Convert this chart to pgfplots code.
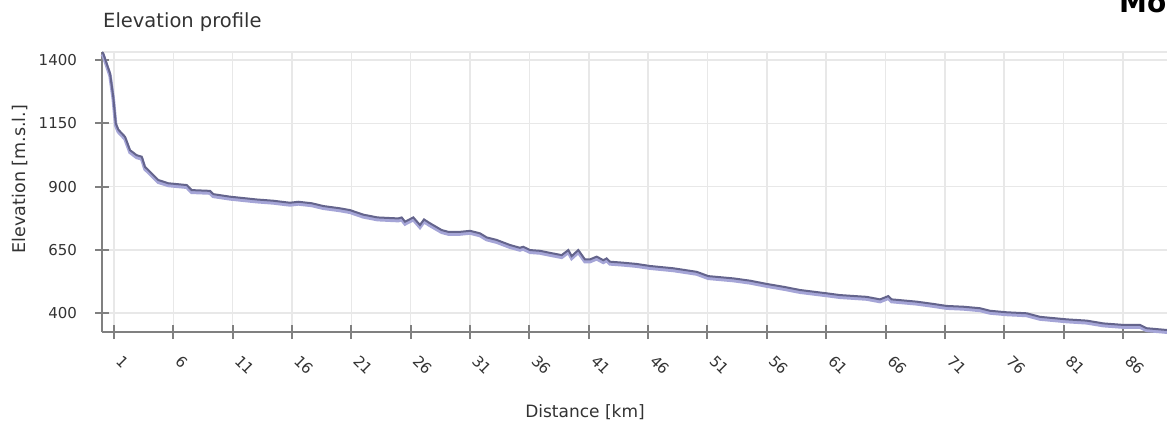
\documentclass[border=0pt]{standalone}
\usepackage{pgfplots}
\pgfplotsset{compat=1.18}
\usepackage{fontspec}
\setmainfont{DejaVu Sans}
\definecolor{gridc}{RGB}{232,232,232}
\definecolor{axc}{RGB}{128,128,128}
\definecolor{darkl}{RGB}{100,100,140}
\definecolor{lightl}{RGB}{165,165,215}
\pgfplotstableread{
km elev
0 1432
0.1 1426
0.67 1347
0.94 1255
1.15 1150
1.37 1125
1.93 1097
2.35 1044
2.91 1024
3.34 1018
3.61 978
4.18 952
4.73 926
5.58 913
7.13 906
7.55 886
9.09 883
9.37 870
10.78 860
13.02 849
14.42 844
15.83 836
16.53 840
17.66 834
18.64 823
20.04 814
20.88 807
22.0 789
23.2 778
24.95 774
25.24 778
25.52 761
26.22 778
26.78 748
27.12 770
27.62 755
28.61 728
29.17 721
30.15 721
31.0 725
31.84 715
32.4 699
33.24 689
34.36 669
35.2 658
35.48 662
36.05 649
36.89 646
37.73 638
38.72 629
39.28 649
39.56 625
40.12 649
40.68 612
41.1 612
41.67 623
42.22 609
42.51 616
42.79 603
43.91 599
45.04 594
46.16 586
48.12 577
50.09 563
51.07 546
53.18 537
54.58 528
56.0 515
57.5 503
58.8 491
61.04 478
62.16 471
64.41 464
65.54 454
66.23 467
66.52 454
68.63 445
70.03 436
71.15 428
72.55 425
73.96 419
74.8 409
76.21 403
77.89 399
79.01 385
81.26 375
82.95 370
84.35 359
86.03 353
87.44 353
88.0 340
89.69 333
91 328
}\profile
\begin{document}
\begin{tikzpicture}[x=1bp,y=1bp]
\clip (0,0) rectangle (1167,429);
\fill[white] (0,0) rectangle (1167,429);
\begin{axis}[
  at={(102.1bp,97bp)}, anchor=south west,
  scale only axis, width=1092bp, height=280bp,
  xmin=0, xmax=92, ymin=325, ymax=1432,
  axis lines=left, axis line style={-, axc, line width=2bp},
  xtick={1,6,...,86}, ytick={400,650,...,1400},
  grid=major, grid style={gridc, line width=1.5bp},
  tick style={axc, line width=2bp}, major tick length=14bp, tick align=center,
  /pgf/number format/1000 sep={},
  /pgf/number format/assume math mode=true,
  ticklabel style={font=\fontsize{15bp}{18bp}\selectfont, text=black!80},
  yticklabel style={anchor=east, inner sep=0pt, xshift=-18bp},
  xticklabel style={shift={(9bp,-15bp)}, rotate=-45, anchor=north west, inner sep=0pt},
  clip=false,
]
\draw[gridc, line width=1.5bp] (rel axis cs:0,1) -- (rel axis cs:1,1);
\addplot[lightl, line width=3.5bp, yshift=-2.2bp] table[x=km, y=elev] {\profile};
\addplot[darkl, line width=2bp] table[x=km, y=elev] {\profile};
\end{axis}
\node[anchor=base west, inner sep=0, font=\fontsize{19.5bp}{22bp}\selectfont, text=black!80] at (103,401) {Elevation profile};
\node[rotate=90, inner sep=0, font=\fontsize{17.5bp}{20bp}\selectfont, text=black!80] at (20,250) {Elevation [m.s.l.]};
\node[anchor=base, inner sep=0, font=\fontsize{17bp}{20bp}\selectfont, text=black!80] at (585,12) {Distance [km]};
\node[anchor=base west, inner sep=0, font=\bfseries\fontsize{28bp}{30bp}\selectfont] at (1119,416) {Mo};
\end{tikzpicture}
\end{document}
